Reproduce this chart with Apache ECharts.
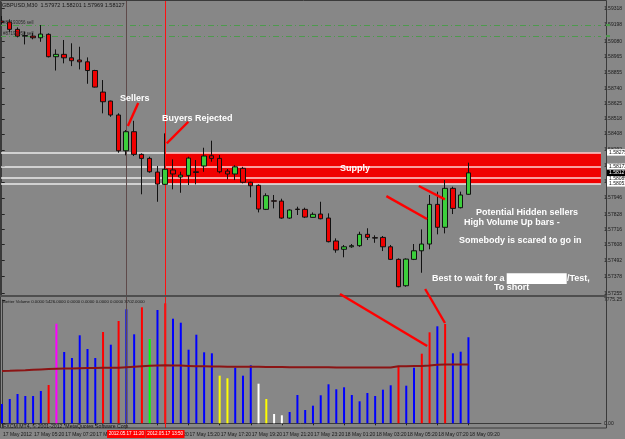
<!DOCTYPE html>
<html><head><meta charset="utf-8">
<script src="https://cdn.jsdelivr.net/npm/echarts@6/dist/echarts.min.js"></script>
<style>html,body{margin:0;padding:0;background:#868686}#c{width:625px;height:439px}</style>
</head><body><div id="c"></div>
<script>
// ---------------- DATA ----------------
const symbolTitle = 'GBPUSD,M30  1.57972 1.58201 1.57969 1.58127';
const volumeTitle = 'Better Volume 0.0000 5426.0000 0.0000 0.0000 0.0000 0.0000 3702.0000';
const footerText = 'FXCM MT4, \u00a9 2001-2012, MetaQuotes Software Corp.';

const timeLabels = ['17 May 2012','17 May 05:20','17 May 07:20','17 May 09:20','17 May 11:20','17 May 13:20',
  '17 May 15:20','17 May 17:20','17 May 19:20','17 May 21:20','17 May 23:20','18 May 01:20',
  '18 May 03:20','18 May 05:20','18 May 07:20','18 May 09:20'];
const labelStep = 4;

const openP = [1.59226,1.59219,1.59166,1.59117,1.59117,1.59105,1.59130,1.58968,1.58985,1.58960,
1.58944,1.58931,1.58868,1.58712,1.58647,1.58546,1.58287,1.58425,1.58261,1.58232,
1.58133,1.58044,1.58148,1.58097,1.58109,1.58135,1.58177,1.58251,1.58232,1.58140,
1.58119,1.58160,1.58059,1.58037,1.57863,1.57925,1.57923,1.57800,1.57865,1.57863,
1.57805,1.57829,1.57800,1.57634,1.57574,1.57592,1.57600,1.57682,1.57658,1.57660,
1.57592,1.57501,1.57310,1.57501,1.57563,1.57612,1.57899,1.57733,1.58015,1.57875,
1.57972];
const closeP = [1.59215,1.59166,1.59117,1.59121,1.59105,1.59132,1.58968,1.58985,1.58960,1.58939,
1.58931,1.58868,1.58748,1.58642,1.58546,1.58287,1.58425,1.58261,1.58232,1.58135,
1.58046,1.58153,1.58119,1.58111,1.58234,1.58130,1.58249,1.58232,1.58135,1.58119,
1.58171,1.58059,1.58034,1.57865,1.57962,1.57922,1.57800,1.57858,1.57862,1.57807,
1.57827,1.57795,1.57629,1.57569,1.57592,1.57600,1.57682,1.57660,1.57655,1.57592,
1.57501,1.57303,1.57503,1.57563,1.57612,1.57899,1.57733,1.58015,1.57870,1.57967,
1.58127];
const lowP = [1.59204,1.59146,1.59108,1.59057,1.59094,1.59076,1.58963,1.58868,1.58920,1.58900,
1.58876,1.58772,1.58745,1.58558,1.58533,1.58273,1.58254,1.58249,1.57972,1.58128,
1.57918,1.58039,1.58008,1.57983,1.58039,1.58044,1.58135,1.58208,1.58124,1.58080,
1.58075,1.58051,1.57950,1.57841,1.57858,1.57870,1.57795,1.57795,1.57822,1.57800,
1.57803,1.57791,1.57624,1.57549,1.57516,1.57585,1.57592,1.57641,1.57621,1.57561,
1.57496,1.57299,1.57303,1.57496,1.57404,1.57574,1.57682,1.57689,1.57829,1.57870,
1.57969];
const highP = [1.59262,1.59238,1.59180,1.59149,1.59141,1.59197,1.59137,1.59021,1.59089,1.59065,
1.59040,1.58963,1.58873,1.58799,1.58650,1.58558,1.58437,1.58504,1.58268,1.58244,
1.58177,1.58413,1.58225,1.58135,1.58244,1.58220,1.58309,1.58360,1.58256,1.58155,
1.58182,1.58171,1.58063,1.58044,1.57979,1.57967,1.57940,1.57863,1.57882,1.57875,
1.57841,1.57918,1.57834,1.57653,1.57605,1.57612,1.57701,1.57726,1.57675,1.57670,
1.57605,1.57508,1.57508,1.57612,1.57718,1.57967,1.57991,1.58075,1.58027,1.57991,
1.58201];

const volume = [1217,1532,1848,1722,1722,2037,2415,6281,4496,4118,
5549,4685,4118,5757,4957,6451,7189,5612,7315,5316,
7145,7567,6596,6344,4641,5587,4477,4414,3002,2838,
3506,3002,3657,2497,1532,586,504,713,1785,839,
1110,1766,2459,2144,2270,1785,1387,1911,1722,2119,
2396,3569,2371,3506,4389,5738,6117,6262,4414,4515,
5426];
// Better Volume classes: N normal, U climax up, D climax down, C churn, L low volume, M climax churn
const volumeClass = ['N','N','N','N','N','N','U','M','N','N',
'N','N','N','U','N','U','N','N','U','C',
'N','U','N','N','N','N','N','N','L','L',
'N','N','N','D','L','D','D','N','N','N',
'N','N','N','N','N','N','N','N','N','N',
'N','U','N','N','U','U','N','U','N','N',
'N'];
const volumeAvg = [3298,3310,3330,3350,3380,3400,3420,3440,3450,3460,
3470,3480,3490,3500,3505,3510,3540,3570,3600,3630,
3650,3660,3650,3640,3620,3600,3590,3580,3575,3570,
3570,3570,3565,3560,3555,3550,3545,3540,3540,3535,
3530,3530,3530,3525,3525,3525,3525,3525,3520,3520,
3525,3590,3600,3610,3620,3640,3690,3700,3700,3700,
3702];

const priceTicks = [1.59318,1.59198,1.59080,1.58965,1.58855,1.58740,1.58625,1.58518,1.58408,1.58292,
1.58176,1.58062,1.57946,1.57828,1.57716,1.57608,1.57492,1.57378,1.57255];
const volumeTicks = [7775.25, 0];
const supplyLevels = [1.58275, 1.58172, 1.58089, 1.58051];
const orderLevels = [1.59197, 1.59117];
const orderLabels = ['#87193056 sell', '#87193050 sell'];
const markerBars = [16, 21];
const markerTimes = ['2012.05.17 11:20', '2012.05.17 13:50'];
const supplyStartBar = 21;

// annotation lines in data coordinates: [barIndex, price] (main) / [barIndex, volume] (volume panel)
const mainArrows = [
  [[17.55, 1.58633], [16.22, 1.58466]],
  [[23.99, 1.58497], [21.22, 1.58341]],
  [[49.46, 1.57959], [54.69, 1.57793]],
  [[53.63, 1.58032], [56.98, 1.57935]]
];
const volumeArrows = [
  [[43.48, 8154], [54.69, 4875]],
  [[54.43, 8469], [56.98, 6325]]
];

// ---------------- STYLE ----------------
const classColor = {N:'#0000ff', U:'#ff0000', D:'#ffffff', C:'#00ff00', L:'#ffff00', M:'#ff00ff'};
const markerColor = ['#5e4a4a', '#ff1010'];
const X_MIN = -0.22, X_MAX = 77.04;
const FONT = '"Liberation Sans", Arial, sans-serif';

const chart = echarts.init(document.getElementById('c'), null, {renderer:'canvas', width:625, height:439});

const candleData = openP.map((o, i) => [i, o, closeP[i], lowP[i], highP[i]]);
const labelIdx = timeLabels.map((_, k) => k * labelStep);

const option = {
  animation: false,
  backgroundColor: '#878787',
  grid: [
    {left: 0, top: 2, width: 606.5, height: 293},
    {left: 0, top: 300, width: 606.5, height: 127.7}
  ],
  xAxis: [
    {type: 'value', gridIndex: 0, min: X_MIN, max: X_MAX, show: false},
    {type: 'value', gridIndex: 1, min: X_MIN, max: X_MAX,
      axisLine: {show: true, lineStyle: {color: '#3a3a3a'}},
      axisTick: {show: true, customValues: labelIdx, length: 2, lineStyle: {color: '#222'}},
      axisLabel: {show: true, customValues: labelIdx, formatter: v => timeLabels[Math.round(v / labelStep)],
        fontSize: 5, color: '#1a1a1a', align: 'left', margin: 4, fontFamily: FONT, padding: [0, 0, 0, 1]},
      splitLine: {show: false}}
  ],
  yAxis: [
    {type: 'value', gridIndex: 0, position: 'right', min: 1.57243, max: 1.59364,
      axisLine: {show: true, lineStyle: {color: '#3a3a3a'}},
      axisTick: {show: true, customValues: priceTicks, length: 3, lineStyle: {color: '#222'}},
      axisLabel: {customValues: priceTicks, formatter: v => v.toFixed(5), fontSize: 5, color: '#1a1a1a', margin: 3, fontFamily: FONT},
      splitLine: {show: false}},
    {type: 'value', gridIndex: 1, position: 'right', min: -278.25, max: 7775.25,
      axisLine: {show: true, lineStyle: {color: '#3a3a3a'}},
      axisTick: {show: true, customValues: volumeTicks, length: 3, lineStyle: {color: '#222'}},
      axisLabel: {customValues: volumeTicks, formatter: v => v.toFixed(2), fontSize: 5, color: '#1a1a1a', margin: 3, fontFamily: FONT},
      splitLine: {show: false}}
  ],
  series: [
    {type: 'candlestick', xAxisIndex: 0, yAxisIndex: 0, data: candleData,
      encode: {x: 0, y: [1, 2, 3, 4]}, barWidth: 5, z: 3,
      itemStyle: {color: '#3ccf3c', color0: '#f00000', borderColor: '#111', borderColor0: '#111', borderWidth: 1},
      markArea: {silent: true, precision: 6, itemStyle: {color: '#f00000'},
        data: [[{xAxis: supplyStartBar, yAxis: supplyLevels[0]}, {xAxis: X_MAX, yAxis: supplyLevels[3]}]]},
      markLine: {silent: true, precision: 6, symbol: ['none', 'none'], z: 2, label: {show: false},
        data: [
          ...supplyLevels.map(v => ({yAxis: v, lineStyle: {color: 'rgba(255,255,255,0.62)', width: 2, type: 'solid'}})),
          ...orderLevels.map(v => ({yAxis: v, lineStyle: {color: '#4d9a4d', width: 1, type: [6, 3, 1, 3]}}))
        ]}
    },
    {type: 'bar', xAxisIndex: 1, yAxisIndex: 1, barWidth: 2, z: 2,
      data: volume.map((v, i) => ({value: [i, v], itemStyle: {color: classColor[volumeClass[i]]}}))
    },
    {type: 'line', xAxisIndex: 1, yAxisIndex: 1, showSymbol: false, z: 4,
      data: volumeAvg.map((v, i) => [i, v]),
      lineStyle: {color: '#8b1414', width: 2}}
  ]
};
chart.setOption(option);

// ---------------- OVERLAYS ----------------
const P0 = p => chart.convertToPixel({gridIndex: 0}, p);
const P1 = p => chart.convertToPixel({gridIndex: 1}, p);
const Y0 = v => chart.convertToPixel({yAxisIndex: 0}, v);
const X1 = v => chart.convertToPixel({xAxisIndex: 1}, v);
const els = [];
const txt = (x, y, text, font, fill, align) => els.push({type: 'text', x, y, z: 200, silent: true,
  style: {legacy: false, text, font, fill, align: align || 'left', verticalAlign: 'middle'}});

// vertical marker lines across both panels (placed through the x scale)
markerBars.forEach((b, k) => {
  const x = Math.round(X1(b)) + 0.5;
  els.push({type: 'line', z: 2.5, silent: true, shape: {x1: x, y1: 1, x2: x, y2: 428},
    style: {stroke: markerColor[k], lineWidth: 1}});
});

// frames
els.push({type: 'rect', z: 150, silent: true, shape: {x: 0.5, y: 0.5, width: 606, height: 427.5}, style: {fill: 'none', stroke: '#3a3a3a', lineWidth: 1}});
els.push({type: 'rect', z: 150, silent: true, shape: {x: 0, y: 295, width: 607, height: 2}, style: {fill: '#4e4e4e'}});

// texts
txt(2, 5, symbolTitle, '5.5px ' + FONT, '#161616');
orderLabels.forEach((t, k) => txt(3, Y0(orderLevels[k]) - 2, t, '4.5px ' + FONT, '#2a2a2a'));
txt(3, 301.5, volumeTitle, '4.3px ' + FONT, '#161616');
txt(3, 426.5, footerText, '5.2px ' + FONT, '#161616');

// order markers on axis
orderLevels.forEach(v => els.push({type: 'rect', z: 160, silent: true, shape: {x: 606, y: Y0(v) - 1, width: 4, height: 2}, style: {fill: '#4d9a4d'}}));

// level price boxes
supplyLevels.forEach(v => {
  const y = Y0(v);
  els.push({type: 'rect', z: 170, silent: true, shape: {x: 607, y: y - 3.2, width: 18, height: 6.4}, style: {fill: '#ffffff'}});
  txt(609, y, v.toFixed(5), '5px ' + FONT, '#111');
});
{
  const last = closeP[closeP.length - 1];
  const y = Y0(last);
  els.push({type: 'rect', z: 175, silent: true, shape: {x: 607, y: y - 3.2, width: 18, height: 6.4}, style: {fill: '#000000'}});
  els.push({type: 'text', x: 609, y, z: 210, silent: true, style: {legacy: false, text: last.toFixed(5), font: '5px ' + FONT, fill: '#ffffff', align: 'left', verticalAlign: 'middle'}});
}

// marker time boxes
markerBars.forEach((b, k) => {
  const x = X1(b);
  els.push({type: 'rect', z: 170, silent: true, shape: {x: x - 19.3, y: 430, width: 38.6, height: 8}, style: {fill: '#ff0000'}});
  txt(x, 434, markerTimes[k], '4.6px ' + FONT, '#ffffff', 'center');
});

// annotation lines
const lineEl = (a, b) => els.push({type: 'line', z: 190, silent: true,
  shape: {x1: a[0], y1: a[1], x2: b[0], y2: b[1]}, style: {stroke: '#ff0000', lineWidth: 2.4}});
mainArrows.forEach(s => lineEl(P0(s[0]), P0(s[1])));
volumeArrows.forEach(s => lineEl(P1(s[0]), P1(s[1])));

// annotation texts
const AF = 'bold 9px ' + FONT;
txt(120, 99, 'Sellers', AF, '#ffffff');
txt(162, 118.5, 'Buyers Rejected', AF, '#ffffff');
txt(340, 168.5, 'Supply', AF, '#ffffff');
txt(476, 212.5, 'Potential Hidden sellers', AF, '#ffffff');
txt(464, 223, 'High Volume Up bars -', AF, '#ffffff');
txt(459, 240.5, 'Somebody is scared to go in', AF, '#ffffff');
txt(432, 279, 'Best to wait for a', AF, '#ffffff');
els.push({type: 'rect', z: 195, silent: true, shape: {x: 506.7, y: 273.3, width: 60, height: 10.7}, style: {fill: '#ffffff'}});
txt(567, 279, '/Test,', AF, '#ffffff');
txt(494, 288, 'To short', AF, '#ffffff');

chart.setOption({graphic: {elements: els}});
</script></body></html>
